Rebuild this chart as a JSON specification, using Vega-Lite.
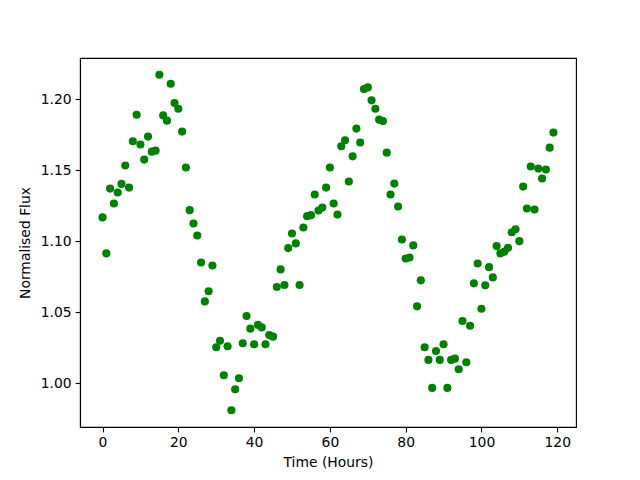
{
  "$schema": "https://vega.github.io/schema/vega-lite/v6.json",
  "autosize": {"type": "none"},
  "padding": {"left": 80, "top": 58, "right": 64, "bottom": 53},
  "width": 496,
  "height": 369,
  "background": "white",
  "config": {
    "view": {"stroke": "black", "strokeWidth": 1.1},
    "font": "DejaVu Sans",
    "axis": {
      "labelFont": "DejaVu Sans",
      "titleFont": "DejaVu Sans",
      "labelFontSize": 13.9,
      "titleFontSize": 13.9,
      "titleFontWeight": "normal",
      "labelColor": "black",
      "titleColor": "black",
      "domainColor": "black",
      "tickColor": "black",
      "domainWidth": 1.1,
      "tickWidth": 1.1,
      "tickSize": 4.9,
      "labelPadding": 4,
      "grid": false
    }
  },
  "data": {
    "values": [
      {"t": 0, "f": 1.1167}, {"t": 1, "f": 1.0914}, {"t": 2, "f": 1.137}, {"t": 3, "f": 1.1265},
      {"t": 4, "f": 1.1342}, {"t": 5, "f": 1.1403}, {"t": 6, "f": 1.1532}, {"t": 7, "f": 1.1377},
      {"t": 8, "f": 1.1703}, {"t": 9, "f": 1.189}, {"t": 10, "f": 1.168}, {"t": 11, "f": 1.1574},
      {"t": 12, "f": 1.1736}, {"t": 13, "f": 1.163}, {"t": 14, "f": 1.1637}, {"t": 15, "f": 1.2171},
      {"t": 16, "f": 1.1885}, {"t": 17, "f": 1.1848}, {"t": 18, "f": 1.2108}, {"t": 19, "f": 1.1972},
      {"t": 20, "f": 1.1932}, {"t": 21, "f": 1.1771}, {"t": 22, "f": 1.1518}, {"t": 23, "f": 1.1218},
      {"t": 24, "f": 1.1124}, {"t": 25, "f": 1.104}, {"t": 26, "f": 1.085}, {"t": 27, "f": 1.0576},
      {"t": 28, "f": 1.0647}, {"t": 29, "f": 1.0829}, {"t": 30, "f": 1.0253}, {"t": 31, "f": 1.0299},
      {"t": 32, "f": 1.0056}, {"t": 33, "f": 1.026}, {"t": 34, "f": 0.981}, {"t": 35, "f": 0.9958},
      {"t": 36, "f": 1.0035}, {"t": 37, "f": 1.0281}, {"t": 38, "f": 1.0473}, {"t": 39, "f": 1.0384},
      {"t": 40, "f": 1.0274}, {"t": 41, "f": 1.0412}, {"t": 42, "f": 1.0393}, {"t": 43, "f": 1.0274},
      {"t": 44, "f": 1.0339}, {"t": 45, "f": 1.0328}, {"t": 46, "f": 1.0677}, {"t": 47, "f": 1.0801},
      {"t": 48, "f": 1.0691}, {"t": 49, "f": 1.0951}, {"t": 50, "f": 1.1054}, {"t": 51, "f": 1.0984},
      {"t": 52, "f": 1.0691}, {"t": 53, "f": 1.1096}, {"t": 54, "f": 1.1176}, {"t": 55, "f": 1.1183},
      {"t": 56, "f": 1.1328}, {"t": 57, "f": 1.1216}, {"t": 58, "f": 1.1237}, {"t": 59, "f": 1.1377},
      {"t": 60, "f": 1.1518}, {"t": 61, "f": 1.1265}, {"t": 62, "f": 1.1188}, {"t": 63, "f": 1.1668},
      {"t": 64, "f": 1.171}, {"t": 65, "f": 1.142}, {"t": 66, "f": 1.1597}, {"t": 67, "f": 1.1792},
      {"t": 68, "f": 1.1694}, {"t": 69, "f": 1.207}, {"t": 70, "f": 1.2082}, {"t": 71, "f": 1.1991},
      {"t": 72, "f": 1.1932}, {"t": 73, "f": 1.1855}, {"t": 74, "f": 1.1845}, {"t": 75, "f": 1.1623},
      {"t": 76, "f": 1.1328}, {"t": 77, "f": 1.1405}, {"t": 78, "f": 1.1244}, {"t": 79, "f": 1.1012},
      {"t": 80, "f": 1.0878}, {"t": 81, "f": 1.0885}, {"t": 82, "f": 1.097}, {"t": 83, "f": 1.0541},
      {"t": 84, "f": 1.0724}, {"t": 85, "f": 1.0253}, {"t": 86, "f": 1.0164}, {"t": 87, "f": 0.9967},
      {"t": 88, "f": 1.0227}, {"t": 89, "f": 1.0164}, {"t": 90, "f": 1.0274}, {"t": 91, "f": 0.9967},
      {"t": 92, "f": 1.0164}, {"t": 93, "f": 1.0173}, {"t": 94, "f": 1.0098}, {"t": 95, "f": 1.0438},
      {"t": 96, "f": 1.0148}, {"t": 97, "f": 1.0405}, {"t": 98, "f": 1.0703}, {"t": 99, "f": 1.0843},
      {"t": 100, "f": 1.0524}, {"t": 101, "f": 1.0689}, {"t": 102, "f": 1.0817}, {"t": 103, "f": 1.0745},
      {"t": 104, "f": 1.0965}, {"t": 105, "f": 1.0914}, {"t": 106, "f": 1.0925}, {"t": 107, "f": 1.0953},
      {"t": 108, "f": 1.1063}, {"t": 109, "f": 1.1084}, {"t": 110, "f": 1.1}, {"t": 111, "f": 1.1384},
      {"t": 112, "f": 1.123}, {"t": 113, "f": 1.1525}, {"t": 114, "f": 1.1223}, {"t": 115, "f": 1.1511},
      {"t": 116, "f": 1.1441}, {"t": 117, "f": 1.1504}, {"t": 118, "f": 1.1658}, {"t": 119, "f": 1.1764}
    ]
  },
  "mark": {"type": "point", "filled": true, "shape": "circle", "size": 66, "color": "#008000", "opacity": 1},
  "encoding": {
    "x": {
      "field": "t", "type": "quantitative", "title": "Time (Hours)",
      "scale": {"domain": [-5.95, 124.95], "nice": false, "zero": false},
      "axis": {"values": [0, 20, 40, 60, 80, 100, 120], "titlePadding": 6}
    },
    "y": {
      "field": "f", "type": "quantitative", "title": "Normalised Flux",
      "scale": {"domain": [0.9692, 1.2289], "nice": false, "zero": false},
      "axis": {"values": [1.0, 1.05, 1.1, 1.15, 1.2], "format": ".2f", "titlePadding": 8}
    }
  }
}
